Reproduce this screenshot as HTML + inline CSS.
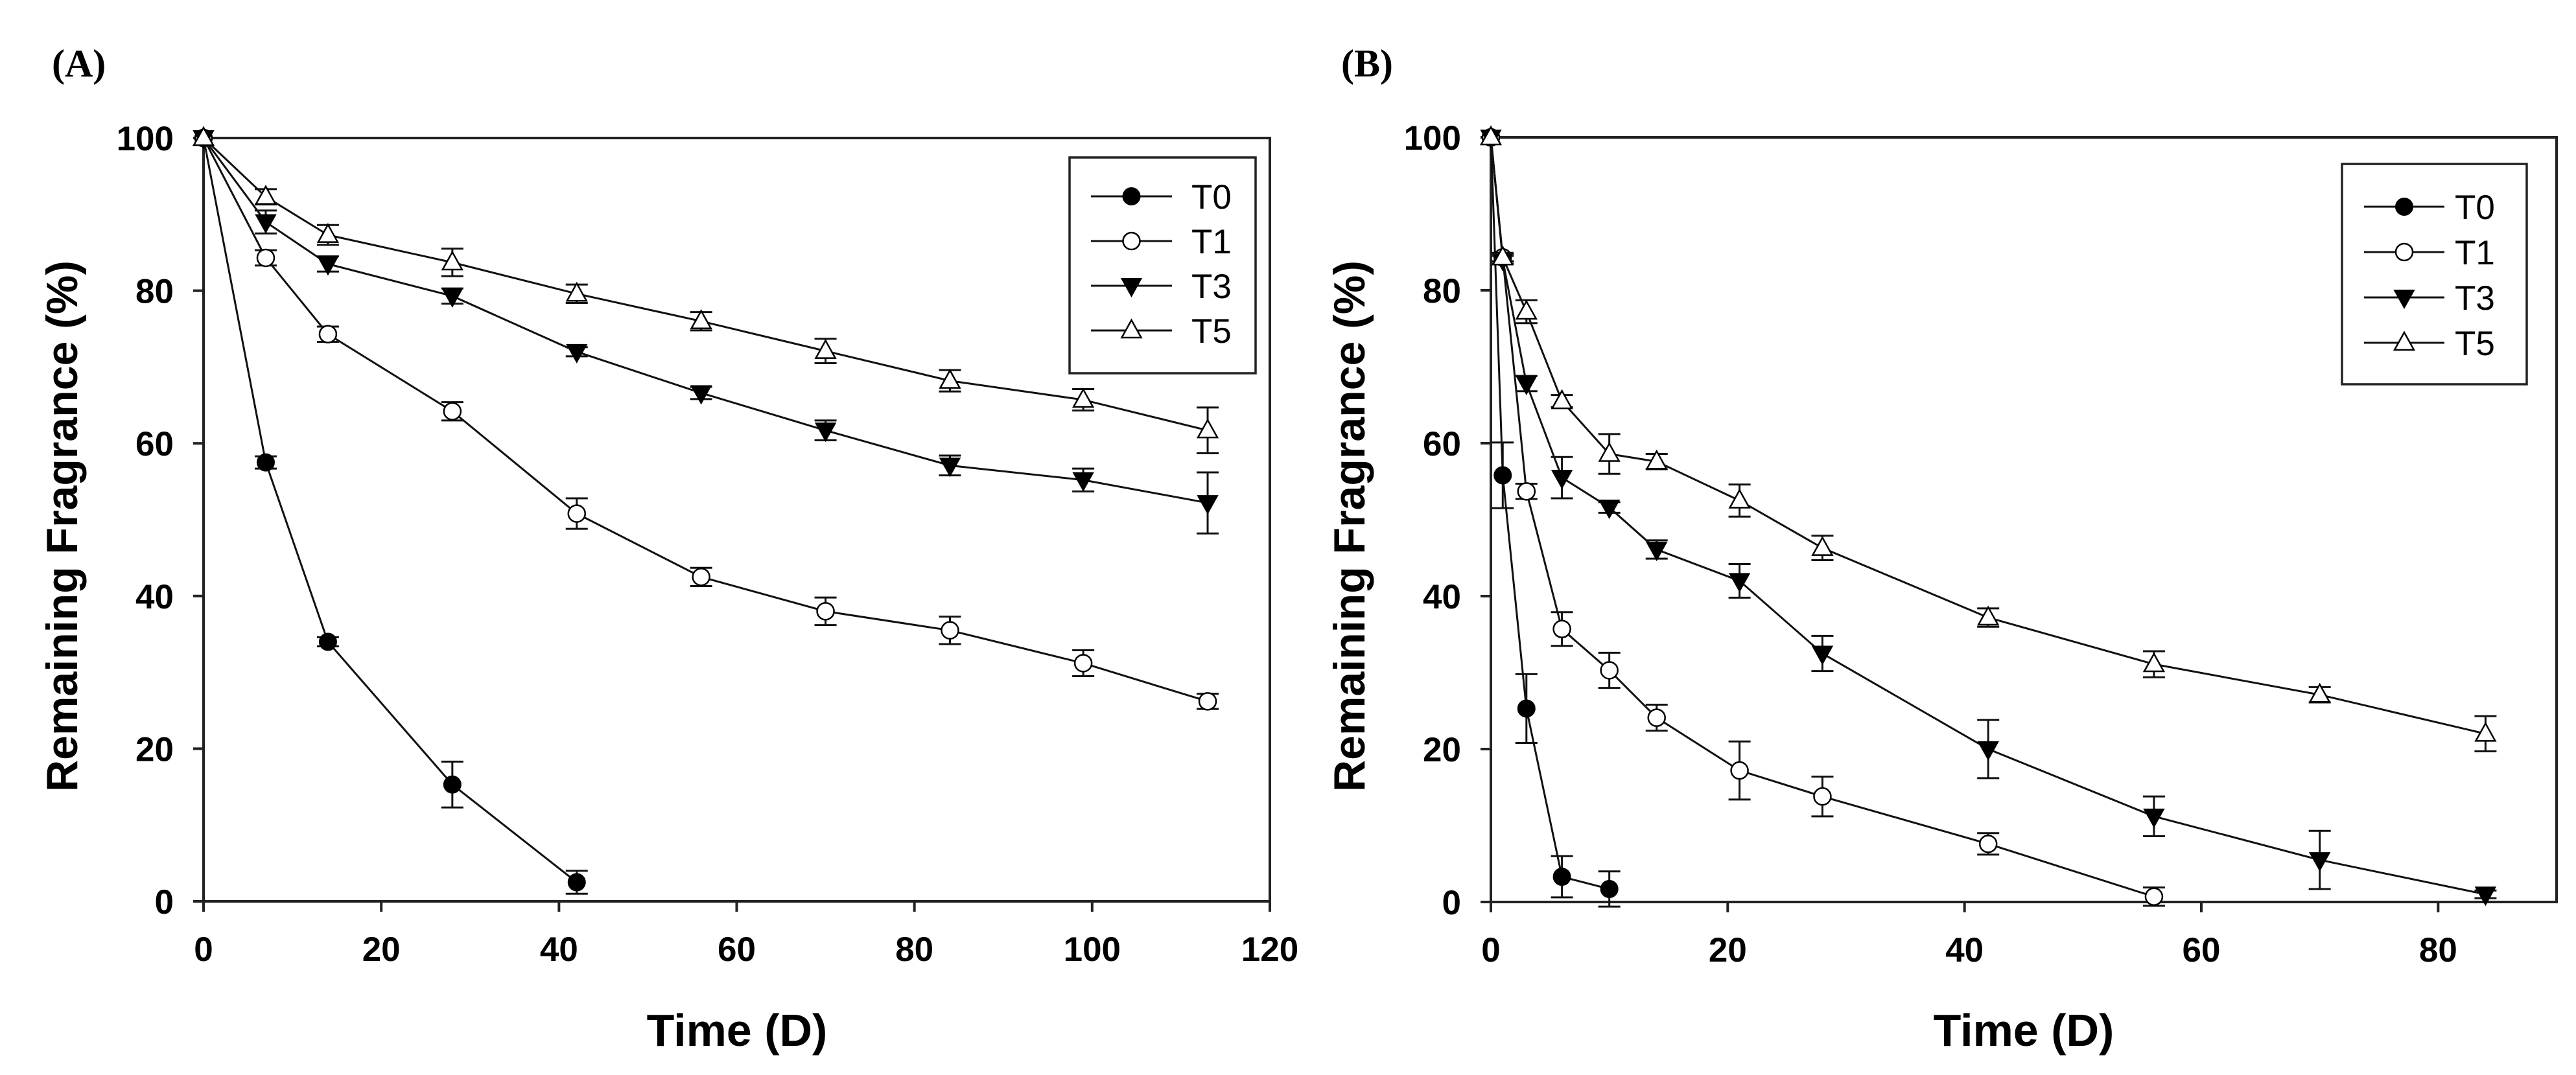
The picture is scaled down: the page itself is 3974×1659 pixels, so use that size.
<!DOCTYPE html>
<html><head><meta charset="utf-8"><style>
html,body{margin:0;padding:0;background:#fff;}
svg{display:block;}
</style></head><body>
<svg id="fig" width="3974" height="1659" viewBox="0 0 3974 1659" xmlns="http://www.w3.org/2000/svg" font-family="Liberation Sans, Arial, sans-serif"></svg>
<script>
// Panel A data
const aDays = [0, 7, 14, 28, 42, 56, 70, 84, 99, 113];
const aT0 = [100, 57.5, 34, 15.3, 2.5];
const aT0err = [0, 0.8, 0.6, 3, 1.5];
const aT1 = [100, 84.3, 74.3, 64.2, 50.8, 42.5, 38, 35.5, 31.2, 26.2];
const aT1err = [0, 1, 1, 1.2, 2, 1.2, 1.8, 1.8, 1.7, 1];
const aT3 = [100, 89, 83.5, 79.3, 72, 66.6, 61.7, 57.1, 55.2, 52.2];
const aT3err = [0, 1.5, 1, 1, 0.6, 0.8, 1.3, 1.3, 1.5, 4];
const aT5 = [100, 92.3, 87.3, 83.7, 79.6, 76, 72.1, 68.2, 65.7, 61.7];
const aT5err = [0, 1, 1.3, 1.8, 1.2, 1.2, 1.6, 1.4, 1.4, 3];
const aXTicks = [0, 20, 40, 60, 80, 100, 120];
// Panel B data
const bDays = [0, 1, 3, 6, 10, 14, 21, 28, 42, 56, 70, 84];
const bT0 = [100, 55.8, 25.3, 3.3, 1.7];
const bT0err = [0, 4.3, 4.5, 2.7, 2.3];
const bT1 = [100, 84.3, 53.7, 35.7, 30.3, 24.1, 17.2, 13.8, 7.6, 0.7];
const bT1err = [0, 0.5, 1, 2.2, 2.3, 1.7, 3.8, 2.6, 1.4, 1.2];
const bT3 = [100, 84, 67.8, 55.5, 51.6, 46.1, 42, 32.5, 20, 11.2, 5.5, 1];
const bT3err = [0, 0.5, 1, 2.7, 0.7, 1.2, 2.2, 2.3, 3.8, 2.6, 3.8, 0.5];
const bT5 = [100, 84.3, 77.2, 65.5, 58.6, 57.6, 52.5, 46.3, 37.2, 31.1, 27.1, 22];
const bT5err = [0, 0.5, 1.5, 0.8, 2.6, 1, 2.1, 1.6, 1.2, 1.7, 1, 2.3];
const bXTicks = [0, 20, 40, 60, 80];
const yTicks = [0, 20, 40, 60, 80, 100];
const legendLabels = ['T0', 'T1', 'T3', 'T5'];

const NS = 'http://www.w3.org/2000/svg';
const svg = document.getElementById('fig');
function mk(tag, attrs, parent) {
  const e = document.createElementNS(NS, tag);
  for (const k in attrs) e.setAttribute(k, attrs[k]);
  (parent || svg).appendChild(e);
  return e;
}
function marker(g, type, cx, cy) {
  let m;
  const r = 13;
  if (type === 0) m = mk('circle', {cx: cx, cy: cy, r: r, fill: '#000', stroke: '#000', 'stroke-width': 2}, g);
  else if (type === 1) m = mk('circle', {cx: cx, cy: cy, r: r, fill: '#fff', stroke: '#000', 'stroke-width': 2.5}, g);
  else if (type === 2) m = mk('polygon', {points: (cx-15)+','+(cy-11)+' '+(cx+15)+','+(cy-11)+' '+cx+','+(cy+16), fill: '#000', stroke: '#000', 'stroke-width': 2}, g);
  else m = mk('polygon', {points: (cx-15)+','+(cy+11)+' '+(cx+15)+','+(cy+11)+' '+cx+','+(cy-16), fill: '#fff', stroke: '#000', 'stroke-width': 2.5}, g);
  return m;
}
function panel(id, cfg) {
  const g = mk('g', {});
  
  
  const X = v => cfg.x0 + (v - 0) / cfg.xmax * (cfg.x1 - cfg.x0);
  const Y = v => cfg.y0 - v / 100 * (cfg.y0 - cfg.y1);
  // frame
  const fr = mk('rect', {x: cfg.x0, y: cfg.y1, width: cfg.x1 - cfg.x0, height: cfg.y0 - cfg.y1, fill: 'none', stroke: '#222', 'stroke-width': 4}, g);
  
  
  // y ticks
  yTicks.forEach(t => {
    mk('line', {x1: cfg.x0 - 16, x2: cfg.x0, y1: Y(t), y2: Y(t), stroke: '#222', 'stroke-width': 4}, g);
    const tx = mk('text', {x: cfg.x0 - 46, y: Y(t) + 19, 'text-anchor': 'end', 'font-size': 53, 'font-weight': 'bold'}, g);
    tx.textContent = t;
    
    
  });
  cfg.xticks.forEach(t => {
    mk('line', {x1: X(t), x2: X(t), y1: cfg.y0, y2: cfg.y0 + 16, stroke: '#222', 'stroke-width': 4}, g);
    const tx = mk('text', {x: X(t), y: cfg.y0 + 92, 'text-anchor': 'middle', 'font-size': 53, 'font-weight': 'bold'}, g);
    tx.textContent = t;
    
    
  });
  const yt = mk('text', {x: 0, y: 0, transform: 'translate(' + (cfg.x0 - 195) + ',' + ((cfg.y0 + cfg.y1) / 2 + 10) + ') rotate(-90)', 'text-anchor': 'middle', 'font-size': 68, 'font-weight': 'bold'}, g);
  yt.textContent = 'Remaining Fragrance (%)';
  
  
  const xt = mk('text', {x: cfg.xtitle, y: 1614, 'text-anchor': 'middle', 'font-size': 70, 'font-weight': 'bold'}, g);
  xt.textContent = 'Time (D)';
  
  
  const pl = mk('text', {x: cfg.labelX, y: 118, 'font-size': 60, 'font-weight': 'bold', 'font-family': 'Liberation Serif, serif'}, g);
  pl.textContent = cfg.label;
  
  
  // series
  cfg.series.forEach((s, si) => {
    const sg = mk('g', {}, g);
    
    
    const pts = s.vals.map((v, i) => X(cfg.days[i]) + ',' + Y(v)).join(' ');
    mk('polyline', {points: pts, fill: 'none', stroke: '#111', 'stroke-width': 3}, sg);
    s.vals.forEach((v, i) => {
      const e = s.err[i];
      const cx = X(cfg.days[i]);
      if (e > 0) {
        const eb = mk('path', {d: 'M' + cx + ',' + Y(v - e) + 'V' + Y(v + e) + 'M' + (cx - 17) + ',' + Y(v + e) + 'h34M' + (cx - 17) + ',' + Y(v - e) + 'h34', stroke: '#111', 'stroke-width': 3, fill: 'none'}, sg);
        
        
      }
    });
    s.vals.forEach((v, i) => {
      const m = marker(sg, si, X(cfg.days[i]), Y(v));
      
      
    });
  });
  // legend
  const lg = mk('g', {}, g);
  
  
  mk('rect', {x: cfg.lg.x, y: cfg.lg.y, width: cfg.lg.w, height: cfg.lg.h, fill: '#fff', stroke: '#222', 'stroke-width': 3.5}, lg);
  legendLabels.forEach((lab, i) => {
    const yy = cfg.lg.ey + i * cfg.lg.dy;
    const eg = mk('g', {}, lg);
    
    
    mk('line', {x1: cfg.lg.l1, x2: cfg.lg.l2, y1: yy, y2: yy, stroke: '#111', 'stroke-width': 3}, eg);
    marker(eg, i, (cfg.lg.l1 + cfg.lg.l2) / 2, yy);
    const t = mk('text', {x: cfg.lg.tx, y: yy + 19, 'font-size': 53}, eg);
    t.textContent = lab;
  });
}
panel('panel-a', {
  x0: 314, x1: 1959, y0: 1391, y1: 213, xmax: 120, xticks: aXTicks, days: aDays,
  xtitle: 1137, labelX: 80, label: '(A)',
  series: [{vals: aT0, err: aT0err}, {vals: aT1, err: aT1err}, {vals: aT3, err: aT3err}, {vals: aT5, err: aT5err}],
  lg: {x: 1650, y: 243, w: 287, h: 333, ey: 303, dy: 69, l1: 1683, l2: 1808, tx: 1838}
});
panel('panel-b', {
  x0: 2300, x1: 3944, y0: 1392, y1: 212, xmax: 90, xticks: bXTicks, days: bDays,
  xtitle: 3122, labelX: 2069, label: '(B)',
  series: [{vals: bT0, err: bT0err}, {vals: bT1, err: bT1err}, {vals: bT3, err: bT3err}, {vals: bT5, err: bT5err}],
  lg: {x: 3613, y: 253, w: 285, h: 340, ey: 319, dy: 70, l1: 3647, l2: 3771, tx: 3787}
});
</script>
</body></html>
